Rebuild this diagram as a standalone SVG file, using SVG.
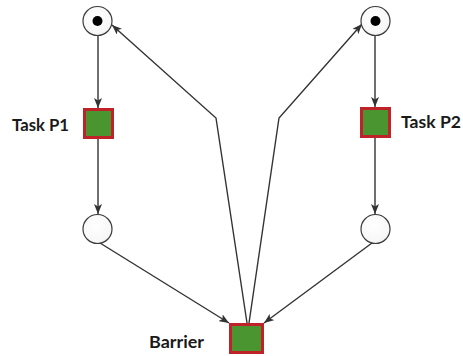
<svg xmlns="http://www.w3.org/2000/svg" width="463" height="356" viewBox="0 0 463 356">
<defs>
<marker id="ah" markerWidth="10" markerHeight="8" refX="10" refY="4" orient="auto" markerUnits="userSpaceOnUse">
<path d="M0,0 L10,4 L0,8 L2.5,4 Z" fill="#333"/>
</marker>
<radialGradient id="pg" cx="0.45" cy="0.4" r="0.65">
<stop offset="0" stop-color="#ffffff"/>
<stop offset="0.8" stop-color="#f7f7f7"/>
<stop offset="1" stop-color="#e6e6e6"/>
</radialGradient>
</defs>
<style>
.place{fill:url(#pg);stroke:#3a3a3a;stroke-width:1.2}
.token{fill:#000}
.trans{fill:#4a9530;stroke:#c0222a;stroke-width:3}
.arc{fill:none;stroke:#333;stroke-width:1.4;marker-end:url(#ah)}
.lbl{font-family:Lato,"Liberation Sans",Arial,sans-serif;font-weight:bold;font-size:17px;fill:#1a1a1a}
</style>
<g id="connectors">
<line class="arc" x1="98" y1="36" x2="98" y2="108"/>
<line class="arc" x1="98" y1="139" x2="98" y2="214"/>
<line class="arc" x1="375" y1="36" x2="375" y2="107"/>
<line class="arc" x1="375" y1="138" x2="375" y2="214"/>
<line class="arc" x1="100" y1="243" x2="229" y2="323"/>
<line class="arc" x1="372" y1="243" x2="264" y2="323"/>
<polyline class="arc" points="247,323 216,118 112,25"/>
<polyline class="arc" points="249,323 279,118 362,24"/>
</g>
<g id="p1-top">
<circle class="place" cx="97.5" cy="21" r="14.5"/>
<circle class="token" cx="97.5" cy="21" r="5"/>
</g>
<g id="p2-top">
<circle class="place" cx="375.5" cy="21" r="14.5"/>
<circle class="token" cx="375.5" cy="21" r="5"/>
</g>
<g id="task-p1">
<rect class="trans" x="84.5" y="109.5" width="28" height="28"/>
<text class="lbl" x="12" y="131" textLength="57" lengthAdjust="spacingAndGlyphs">Task P1</text>
</g>
<g id="task-p2">
<rect class="trans" x="361.5" y="108.5" width="28" height="28"/>
<text class="lbl" x="401" y="128" textLength="60" lengthAdjust="spacingAndGlyphs">Task P2</text>
</g>
<g id="p1-bottom">
<circle class="place" cx="97.5" cy="229" r="14.5"/>
</g>
<g id="p2-bottom">
<circle class="place" cx="375.5" cy="229" r="14.5"/>
</g>
<g id="barrier">
<rect class="trans" x="230.5" y="324.5" width="32" height="28"/>
<text class="lbl" x="149" y="348" textLength="55" lengthAdjust="spacingAndGlyphs">Barrier</text>
</g>
</svg>
